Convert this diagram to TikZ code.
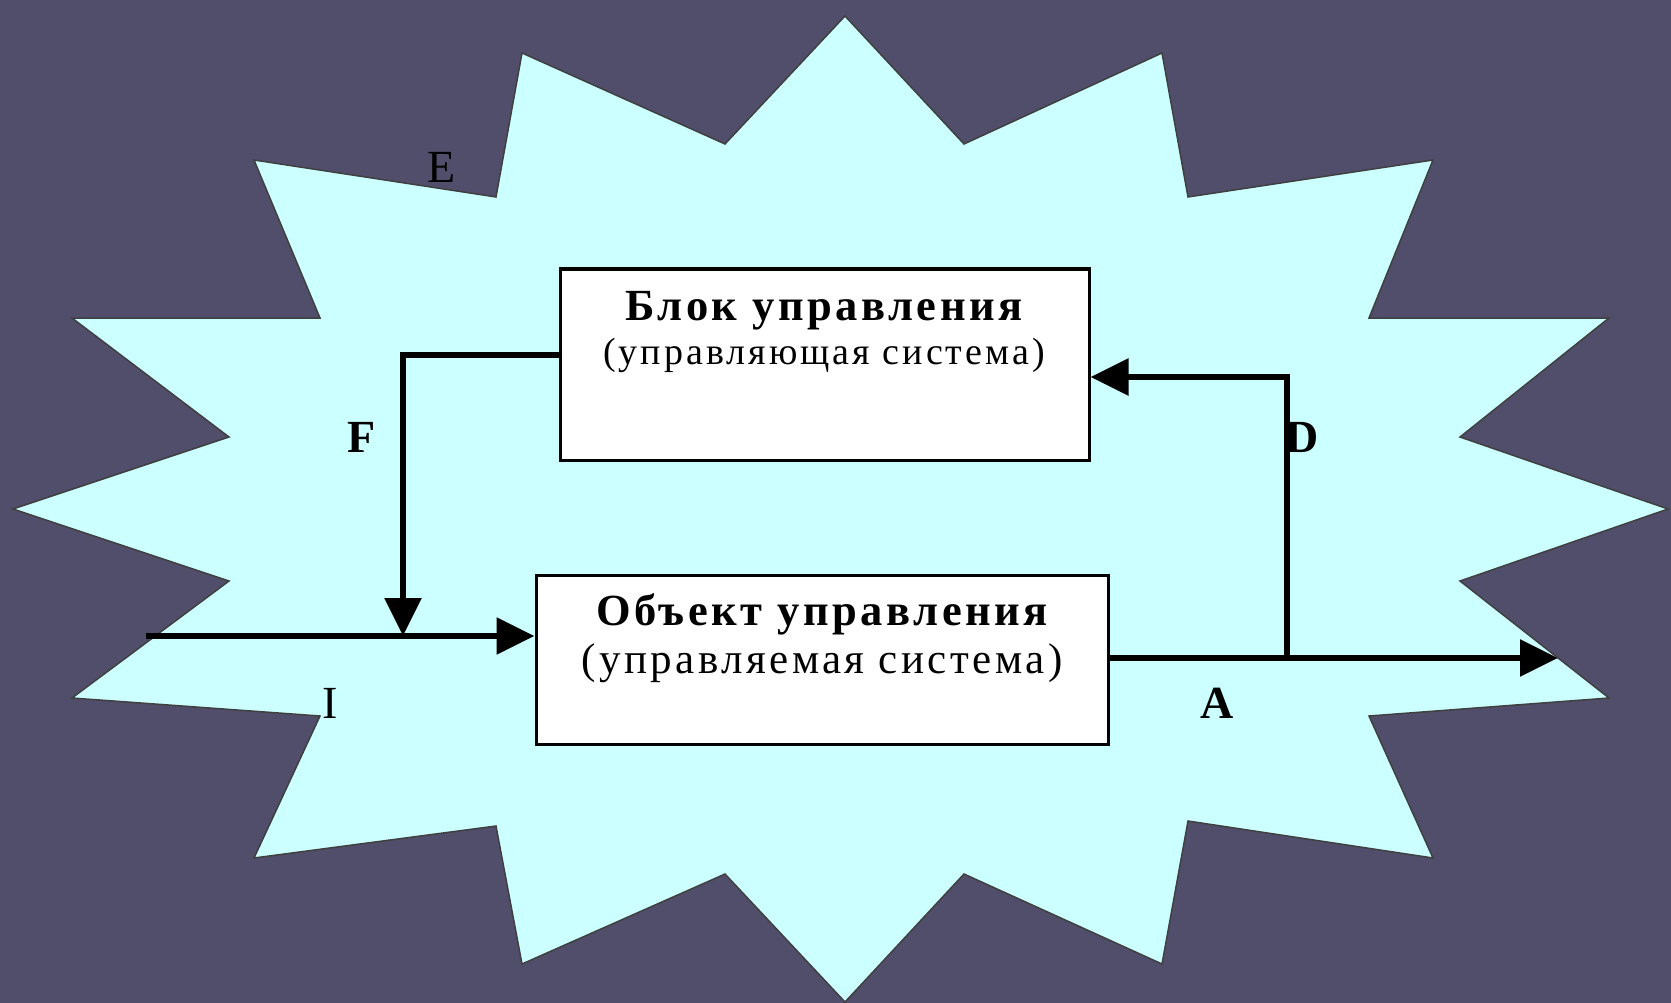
\documentclass[tikz,border=0pt]{standalone}
\usepackage{fontspec}
\setmainfont{Liberation Serif}
\newfontfamily\spaced[LetterSpace=8]{Liberation Serif}
\usetikzlibrary{arrows.meta}
\definecolor{bgcol}{RGB}{80,78,106}
\definecolor{starcol}{RGB}{204,255,255}
\begin{document}
\begin{tikzpicture}[x=1pt,y=-1pt,
  box/.style={draw=black,line width=3pt,fill=white,inner sep=0pt},
  wire/.style={line width=6pt},
  tip/.style={-{Triangle[length=38pt,width=36pt]}},
  lbl/.style={font=\fontsize{46}{46}\selectfont\bfseries,inner sep=0pt},
  lblthin/.style={font=\fontsize{46}{46}\selectfont,inner sep=0pt},
  title/.style={font=\spaced\fontsize{44.5}{44.5}\selectfont\bfseries,inner sep=0pt},
  sub/.style={font=\spaced\fontsize{38}{38}\selectfont,inner sep=0pt}]

% background
\fill[bgcol] (0,0) rectangle (1671,1003);
\useasboundingbox (0,0) rectangle (1671,1003);

% sixteen-point burst
\filldraw[fill=starcol,draw=black!75,line width=1.5pt]
  (845,16) -- (964,144) -- (1162,53) -- (1188,197) -- (1433,160) -- (1369,318)
  -- (1609,318) -- (1460,437) -- (1668,509) -- (1460,581) -- (1609,698)
  -- (1369,716) -- (1433,858) -- (1188,821) -- (1162,964) -- (964,874)
  -- (845,1002) -- (725,874) -- (522,964) -- (496,826) -- (254,858)
  -- (320,716) -- (72,698) -- (229,581) -- (13,509) -- (229,437)
  -- (72,318) -- (320,318) -- (254,160) -- (496,197) -- (522,53)
  -- (725,144) -- cycle;

% blocks
\node[box,minimum width=529pt,minimum height=191pt] (ctl) at (824.5,364.5) {};
\node[box,minimum width=572pt,minimum height=169pt] (obj) at (822,659.5) {};

\node[title] (ctlT) at (824,311) {Блок управления};
\node[sub]   (ctlS) at (824,355) {(управляющая система)};
\node[title] (objT) at (822,614) {Объект управления};
\node[sub,font=\spaced\fontsize{43}{43}\selectfont] (objS) at (822,663) {(управляемая система)};

% labels
\node[lblthin] (lE) at (442,167) {E};
\node[lbl] (lF) at (362,437) {F};
\node[lbl] (lD) at (1302,437) {D};
\node[lblthin] (lI) at (330,703) {I};
\node[lbl] (lA) at (1217,703) {A};

% connectors
\coordinate (inp) at (146,636);
\coordinate (outp) at (1558,658);
\coordinate (fb) at (403,355);
\coordinate (br) at (1287,658);
\coordinate (dy) at (1287,377);

\draw[wire,tip] (inp) -- (obj.west |- inp);
\draw[wire,tip] (ctl.west |- fb) -- (fb) -- (fb |- inp);
\draw[wire,tip] (obj.east |- outp) -- (outp);
\draw[wire,tip] (br) -- (dy) -- (ctl.east |- dy);
\end{tikzpicture}
\end{document}
